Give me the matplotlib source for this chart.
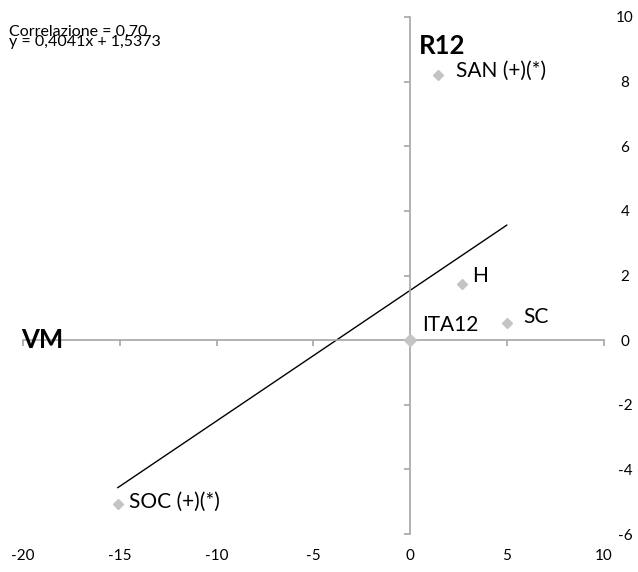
import matplotlib
matplotlib.use("Agg")
import matplotlib.pyplot as plt
import numpy as np

plt.rcParams['font.family'] = ['Lato', 'DejaVu Sans']
plt.rcParams['axes.unicode_minus'] = False

# Data
labels = ["SAN (+)(*)", "H", "SC", "SOC (+)(*)", "ITA12"]
x_vals = [1.45, 2.7, 5.0, -15.1, 0.0]
y_vals = [8.2, 1.73, 0.53, -5.08, 0.0]
slope = 0.4041
intercept = 1.5373
corr_text = "Correlazione = 0,70"
eq_text = "y = 0,4041x + 1,5373"
x_ticks = [-20, -15, -10, -5, 0, 5, 10]
y_ticks = [-6, -4, -2, 0, 2, 4, 6, 8, 10]
x_axis_title = "VM"
y_axis_title = "R12"

label_offsets = {  # offsets in points
    "SAN (+)(*)": (13, 3),
    "H": (7, 6),
    "SC": (12, 4),
    "SOC (+)(*)": (8, 2),
    "ITA12": (9, 11),
}

fig = plt.figure(figsize=(6.38, 5.72), dpi=100)
ax = fig.add_axes([23/638, 1 - 534/572, 580.5/638, 517/572])
ax.set_xlim(-20, 10)
ax.set_ylim(-6, 10)

axis_col = "#a6a6a6"
marker_col = "#c4c4c4"

for s in ["top", "right"]:
    ax.spines[s].set_visible(False)
ax.spines["left"].set_position(("data", 0))
ax.spines["bottom"].set_position(("data", 0))
ax.spines["left"].set_color(axis_col)
ax.spines["bottom"].set_color(axis_col)
ax.spines["left"].set_linewidth(1.2)
ax.spines["bottom"].set_linewidth(1.2)
ax.set_xticks(x_ticks)
ax.set_yticks(y_ticks)
ax.tick_params(axis="both", direction="out", length=4, width=1.2, color=axis_col,
               labelleft=False, labelbottom=False)

# tick labels via secondary axes
sy = ax.secondary_yaxis("right")
sy.set_yticks(y_ticks)
sy.spines["right"].set_visible(False)
sy.tick_params(length=0, pad=15.5, labelsize=11)
for t in sy.get_yticklabels():
    t.set_ha("center")
sx = ax.secondary_xaxis("bottom")
sx.set_xticks(x_ticks)
sx.spines["bottom"].set_visible(False)
sx.tick_params(length=0, pad=11, labelsize=11)

# regression line
pts_x = [x for x, l in zip(x_vals, labels) if l != "ITA12"]
lx = np.array([min(pts_x), max(pts_x)])
ax.plot(lx, slope * lx + intercept, color="black", lw=1.0, zorder=2)

# points
for lab, x, y in zip(labels, x_vals, y_vals):
    ms = 6.5 if lab == "ITA12" else 5
    ax.plot(x, y, marker="D", ms=ms, color=marker_col, mec=marker_col,
            ls="none", zorder=3, clip_on=False)
    dx, dy = label_offsets[lab]
    ax.annotate(lab, (x, y), xytext=(dx, dy), textcoords="offset points",
                ha="left", va="center", fontsize=15, color="black")

# axis titles
ax.text(-20.1, 0, x_axis_title, fontsize=18.5, fontweight="bold", ha="left", va="center")
ax.text(0.45, 9.1, y_axis_title, fontsize=18.5, fontweight="bold", ha="left", va="center")

fig.text(9/638, 1 - 32/572, corr_text, fontsize=11.5, ha="left", va="center")
fig.text(9/638, 1 - 42/572, eq_text, fontsize=11.5, ha="left", va="center")

fig.savefig("out.png", dpi=100)
